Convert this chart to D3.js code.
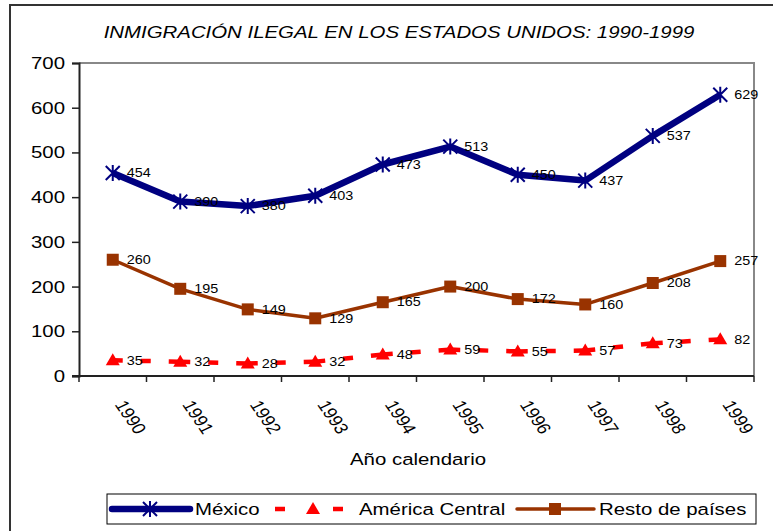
<!DOCTYPE html>
<html>
<head>
<meta charset="utf-8">
<script src="https://cdn.jsdelivr.net/npm/d3@7"></script>
<style>
  body { margin: 0; background: #fff; }
  text { font-family: "Liberation Sans", Arial, sans-serif; fill: #000; }
</style>
</head>
<body>
<svg id="chart" width="773" height="531"></svg>
<script>
"use strict";

const years = ["1990", "1991", "1992", "1993", "1994", "1995", "1996", "1997", "1998", "1999"];
const mexico = [454, 390, 380, 403, 473, 513, 450, 437, 537, 629];
const centralAmerica = [35, 32, 28, 32, 48, 59, 55, 57, 73, 82];
const restOfWorld = [260, 195, 149, 129, 165, 200, 172, 160, 208, 257];
const yTicks = [0, 100, 200, 300, 400, 500, 600, 700];

const series = [
  { name: "México", values: mexico, color: "#000080", width: 6.5, dash: null, marker: "star" },
  { name: "América Central", values: centralAmerica, color: "#ff0000", width: 4.5, dash: "10,18", marker: "tri" },
  { name: "Resto de países", values: restOfWorld, color: "#993300", width: 3.5, dash: null, marker: "square" }
];

const SX = 1.2;  // the original picture is stretched sideways, text too

let svg = d3.select("#chart");

// text placed at (x, y) and widened like the reference
function addText(parent, px, py, str, size, extra) {
  let t = parent.append("text")
    .attr("transform", `translate(${px},${py}) scale(${SX},1)`)
    .style("font-size", size + "px")
    .text(str);
  if (extra) extra(t);
  return t;
}

// Outer frame (runs off the right and bottom edges)
svg.append("path")
   .attr("d", "M10,800 L10,5 L800,5")
   .attr("fill", "none")
   .attr("stroke", "#333")
   .attr("stroke-width", 2);

const plotLeft = 79, plotRight = 754, plotTop = 63, plotBottom = 376;

const x = d3.scaleBand().domain(years).range([plotLeft, plotRight]);
const y = d3.scaleLinear().domain([0, 700]).range([plotBottom, plotTop]);

// Title
addText(svg, 399, 38, "INMIGRACIÓN ILEGAL EN LOS ESTADOS UNIDOS: 1990-1999", 17, t =>
  t.attr("text-anchor", "middle").style("font-style", "italic"));

// Plot frame, top and right in gray
svg.append("path")
   .attr("d", `M${plotLeft},${plotTop} L${plotRight},${plotTop} L${plotRight},${plotBottom}`)
   .attr("fill", "none")
   .attr("stroke", "#888")
   .attr("stroke-width", 2);

// Y axis
let yAxis = svg.append("g")
   .attr("transform", `translate(${plotLeft},0)`)
   .call(d3.axisLeft(y).tickValues(yTicks).tickSize(7).tickPadding(7));
yAxis.select(".domain").attr("stroke", "#222").attr("stroke-width", 2);
yAxis.selectAll(".tick line").attr("stroke", "#222").attr("stroke-width", 1.5);
yAxis.selectAll("text")
     .attr("x", null)
     .attr("transform", `translate(-14,0) scale(${SX},1)`)
     .style("font-size", "17px")
     .style("font-family", "'Liberation Sans', Arial, sans-serif")
     .attr("fill", "#000");

// X axis: ticks at category boundaries
let xAxis = svg.append("g").attr("transform", `translate(0,${plotBottom})`);
xAxis.append("line")
     .attr("x1", plotLeft - 7).attr("x2", plotRight)
     .attr("stroke", "#222").attr("stroke-width", 2);
xAxis.selectAll("line.tk")
     .data(years.concat(["end"]))
     .enter().append("line")
     .attr("class", "tk")
     .attr("x1", (d, i) => plotLeft + i * x.step())
     .attr("x2", (d, i) => plotLeft + i * x.step())
     .attr("y1", 0).attr("y2", 6)
     .attr("stroke", "#222").attr("stroke-width", 1.5);

svg.append("g").selectAll("text")
   .data(years)
   .enter().append("text")
   .attr("transform", d => `translate(${x(d) + x.bandwidth() / 2 + 18},417) scale(${SX},1) rotate(60)`)
   .attr("text-anchor", "middle")
   .attr("dy", "0.35em")
   .style("font-size", "16px")
   .text(d => d);

addText(svg, 418, 465, "Año calendario", 17, t => t.attr("text-anchor", "middle"));

const cx = i => x(years[i]) + x.bandwidth() / 2;

function drawMarker(g, type, color) {
  if (type === "star") {
    g.append("path")
     .attr("d", "M-7,-7L7,7M-7,7L7,-7M0,-8L0,8")
     .attr("stroke", color).attr("stroke-width", 2).attr("fill", "none");
  } else if (type === "tri") {
    g.append("path")
     .attr("d", "M0,-7L7,5L-7,5Z")
     .attr("fill", color);
  } else {
    g.append("rect")
     .attr("x", -6).attr("y", -6).attr("width", 12).attr("height", 12)
     .attr("fill", color);
  }
}

for (let s of series) {
  let pts = s.values.map((v, i) => [cx(i), y(v)]);
  if (s.dash) {
    // dash pattern restarts at every segment, as in the reference
    svg.append("g").selectAll("line")
       .data(d3.pairs(pts))
       .enter().append("line")
       .attr("x1", d => d[0][0]).attr("y1", d => d[0][1])
       .attr("x2", d => d[1][0]).attr("y2", d => d[1][1])
       .attr("stroke", s.color)
       .attr("stroke-width", s.width)
       .attr("stroke-dasharray", s.dash);
  } else {
    svg.append("path")
       .attr("d", d3.line()(pts))
       .attr("fill", "none")
       .attr("stroke", s.color)
       .attr("stroke-width", s.width)
       .attr("stroke-linejoin", "round");
  }

  let g = svg.append("g").selectAll("g")
     .data(s.values)
     .enter().append("g")
     .attr("transform", (d, i) => `translate(${cx(i)},${y(d)})`);
  g.each(function () { drawMarker(d3.select(this), s.marker, s.color); });
  g.append("text")
   .attr("transform", `translate(14,0) scale(${SX},1)`)
   .attr("dy", "0.35em")
   .style("font-size", "12px")
   .attr("fill", "#222")
   .text(d => d);
}

// Legend
let legend = svg.append("g");
legend.append("rect")
      .attr("x", 107).attr("y", 494).attr("width", 649).attr("height", 30)
      .attr("fill", "#fff").attr("stroke", "#000").attr("stroke-width", 1);

const legendItems = [
  { s: series[0], x1: 112, x2: 190, mx: 150, tx: 195, dash: null },
  { s: series[1], x1: 275, x2: 343, mx: 313, tx: 359, dash: "10,48" },
  { s: series[2], x1: 517, x2: 594, mx: 555, tx: 599, dash: null }
];
for (let it of legendItems) {
  let g = legend.append("g");
  let ln = g.append("line")
   .attr("x1", it.x1).attr("x2", it.x2)
   .attr("y1", 509).attr("y2", 509)
   .attr("stroke", it.s.color)
   .attr("stroke-width", it.s.width)
   .attr("stroke-linecap", it.dash ? "butt" : "round");
  if (it.dash) ln.attr("stroke-dasharray", it.dash);
  let m = g.append("g").attr("transform", `translate(${it.mx},509)`);
  drawMarker(m, it.s.marker, it.s.color);
  addText(g, it.tx, 509, it.s.name, 17, t => t.attr("dy", "0.35em"));
}
</script>
</body>
</html>
